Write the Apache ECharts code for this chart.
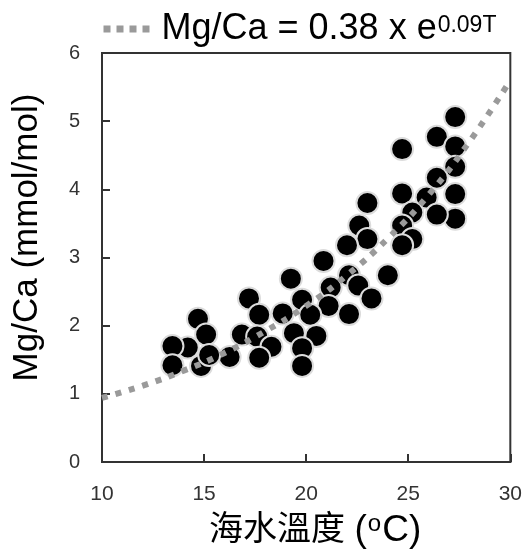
<!DOCTYPE html>
<html>
<head>
<meta charset="utf-8">
<title>Mg/Ca vs sea water temperature</title>
<script src="https://cdn.jsdelivr.net/npm/echarts@6/dist/echarts.min.js"></script>
<style>
  html, body { margin: 0; padding: 0; background: #fff; }
  #mgca_temp { width: 525px; height: 554px; }
</style>
</head>
<body>
<div id="mgca_temp"></div>
<script>
// Data
// ------------------------------

// Sea water temperature (oC) of each sample
var sampleTemps = [
  27.3, 26.4, 24.7, 27.3, 27.3, 26.4, 25.9, 24.7, 27.3, 27.3,
  26.4, 25.2, 24.7, 25.2, 24.7, 23.0, 22.6, 23.0, 22.0, 20.85,
  22.1, 22.55, 24.0, 23.2, 21.2, 21.1, 22.1, 19.25, 19.8, 20.2,
  18.85, 19.4, 20.5, 19.8, 19.8, 17.2, 17.7, 16.85, 17.6, 18.3,
  17.7, 16.25, 14.7, 15.1, 14.2, 13.45, 13.45, 14.85, 15.25
];

// Mg/Ca (mmol/mol) of each sample
var sampleMgCa = [
  5.06, 4.77, 4.59, 4.63, 4.33, 4.17, 3.88, 3.94, 3.93, 3.57,
  3.63, 3.66, 3.47, 3.27, 3.18, 3.80, 3.47, 3.27, 3.18, 2.95,
  2.74, 2.59, 2.74, 2.40, 2.56, 2.29, 2.17, 2.69, 2.38, 2.16,
  2.18, 1.89, 1.85, 1.67, 1.41, 2.40, 2.16, 1.87, 1.84, 1.69,
  1.53, 1.54, 2.10, 1.87, 1.68, 1.70, 1.42, 1.41, 1.57
];

// Fitted curve
var trendTemps = [10, 12, 14, 16, 18, 20, 22, 24, 26, 28, 30];
var trendMgCa = [0.94, 1.12, 1.34, 1.60, 1.92, 2.29, 2.74, 3.28, 3.92, 4.70, 5.60];

var xTicks = [10, 15, 20, 25, 30];
var yTicks = [0, 1, 2, 3, 4, 5, 6];

var trendName = "Mg/Ca = 0.38 x e^0.09T";

// Setup module
// ------------------------------

var mgcaTemp = (function () {
  var mgcaTempChart = function () {
    if (typeof echarts == "undefined") {
      console.warn("Warning - echarts.min.js is not loaded.");
      return;
    }

    var mgca_temp_element = document.getElementById("mgca_temp");
    if (!mgca_temp_element) return;

    var mgca_temp = echarts.init(mgca_temp_element);

    var points = sampleTemps.map(function (t, i) {
      return [t, sampleMgCa[i]];
    });
    var trend = trendTemps.map(function (t, i) {
      return [t, trendMgCa[i]];
    });

    var font = "'Liberation Sans', Arial, 'Noto Sans CJK TC', sans-serif";

    mgca_temp.setOption({
      animation: false,
      textStyle: { fontFamily: font },

      grid: {
        left: 102,
        top: 53,
        width: 410,
        height: 412,
        show: true,
        borderColor: "#333",
        borderWidth: 2,
        backgroundColor: "transparent",
      },

      legend: {
        data: [trendName],
        left: 95,
        top: 6,
        selectedMode: false,
        itemWidth: 50,
        itemHeight: 14,
        itemStyle: { opacity: 0, borderWidth: 0 },
        lineStyle: {
          color: "#9a9a9a",
          width: 7,
          type: [7, 6],
          opacity: 1,
        },
        formatter: function () {
          return "{a|Mg/Ca = 0.38 x e}{b|0.09T}";
        },
        textStyle: {
          rich: {
            a: { fontSize: 36, color: "#000", fontFamily: font, padding: [0, 0, 0, 3] },
            b: { fontSize: 23, color: "#000", fontFamily: font, verticalAlign: "top", padding: [3, 0, 0, 1] },
          },
        },
      },

      xAxis: {
        type: "value",
        min: xTicks[0],
        max: xTicks[xTicks.length - 1],
        interval: 5,
        name: "{c|海水溫度 }{l|(}{s|o}{l|C)}",
        nameLocation: "middle",
        nameGap: 50,
        nameTextStyle: {
          fontSize: 34,
          color: "#000",
          fontFamily: font,
          padding: [0, 0, 0, 18],
          rich: {
            c: { fontSize: 34, color: "#000", fontFamily: font },
            l: { fontSize: 37, color: "#000", fontFamily: font },
            s: { fontSize: 24, color: "#000", fontFamily: font, verticalAlign: "top", padding: [0, 1, 0, 1] },
          },
        },
        axisLine: { show: true, lineStyle: { color: "#333", width: 2 } },
        axisTick: { show: true, inside: true, length: 8, lineStyle: { color: "#333", width: 2 } },
        axisLabel: { fontSize: 21, color: "#333", margin: 22 },
        splitLine: { show: false },
      },

      yAxis: {
        type: "value",
        min: yTicks[0],
        max: yTicks[yTicks.length - 1],
        interval: 1,
        name: "Mg/Ca (mmol/mol)",
        nameLocation: "middle",
        nameGap: 57,
        nameTextStyle: {
          fontSize: 35,
          color: "#000",
          fontFamily: font,
          padding: [0, 0, 0, 40],
        },
        axisLine: { show: true, lineStyle: { color: "#333", width: 2 } },
        axisTick: { show: true, inside: true, length: 8, lineStyle: { color: "#333", width: 2 } },
        axisLabel: { fontSize: 20, color: "#333", margin: 22 },
        splitLine: { show: false },
      },

      series: [
        {
          name: "samples",
          type: "scatter",
          data: points,
          symbol: "circle",
          symbolSize: 22,
          itemStyle: {
            color: "#000",
            borderColor: "#dcdcdc",
            borderWidth: 2,
            opacity: 1,
          },
        },
        {
          name: trendName,
          type: "line",
          data: trend,
          smooth: true,
          symbol: "none",
          showSymbol: false,
          itemStyle: { color: "#9a9a9a" },
          lineStyle: {
            color: "#9a9a9a",
            width: 6,
            type: [6, 8],
            cap: "butt",
          },
        },
      ],
    });

    var resizeCharts;
    window.addEventListener("resize", function () {
      clearTimeout(resizeCharts);
      resizeCharts = setTimeout(function () {
        mgca_temp.resize();
      }, 200);
    });
  };

  return {
    init: function () {
      mgcaTempChart();
    },
  };
})();

document.addEventListener("DOMContentLoaded", function () {
  mgcaTemp.init();
});
</script>
</body>
</html>
